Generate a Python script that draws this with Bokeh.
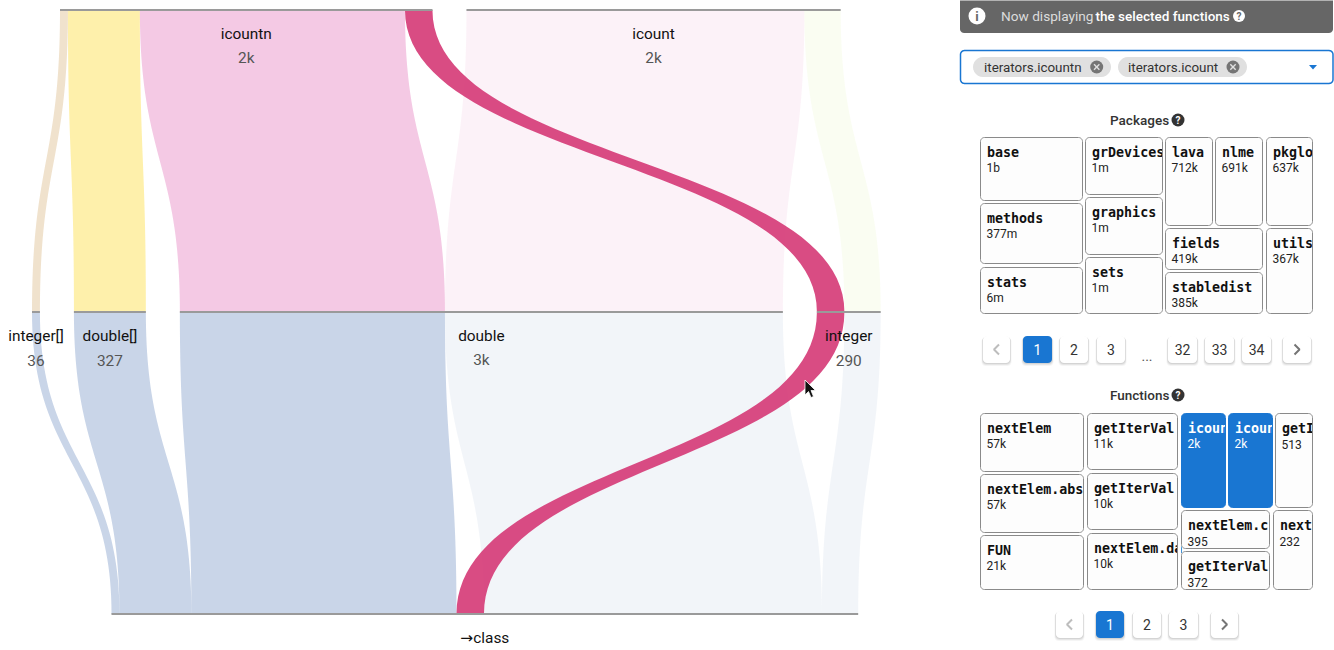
from bokeh.plotting import figure
from bokeh.layouts import row
from bokeh.embed import file_html
from bokeh.resources import INLINE
from bokeh.core.properties import value
from bokeh.models import Range1d

# ---- parallel-sets data (counts) ---------------------------------------
rib_counts = [36, 327, 1205, 125, 1536, 165]
rib_top_color = ["#d4ac70", "#fcd40f", "#e065b2", "#d53876", "#e065b2", "#c3eb69"]
rib_top_alpha = [0.35, 0.35, 0.35, 0.9, 0.085, 0.085]
rib_low_alpha = [0.35, 0.35, 0.35, 0.9, 0.085, 0.085]
rib_low_color = ["#6487bd", "#6487bd", "#6487bd", "#d53876", "#6487bd", "#6487bd"]

top_groups = [("icountn", "2k", [0, 1, 2, 3]), ("icount", "2k", [4, 5])]
mid_groups = [("integer[]", "36", [0]), ("double[]", "327", [1]), ("double", "3k", [2, 4]), ("integer", "290", [3, 5])]
low_order = [0, 1, 2, 3, 4, 5]
low_label = "→class"

# layout constants of the diagram, in count units / pixels
KX = 0.22          # pixels per count
GAP = 34 / KX      # gap between nodes
TOP_START = 28 / KX
MID_START = 0.0
LOW_START = 79.5 / KX
ROW_PX = 302.0     # pixels between rows

W_LEFT, W_RIGHT, H = 950, 384, 650
PX0 = 32.0         # page x of count 0
LY = lambda py: (py - 10) / ROW_PX
LX = lambda px: (px - PX0) / KX


def stack(groups, start):
    pos, spans, x = {}, [], start
    for _, _, idx in groups:
        s = x
        for i in idx:
            pos[i] = (x, x + rib_counts[i])
            x += rib_counts[i]
        spans.append((s, x))
        x += GAP
    return pos, spans


top_pos, top_spans = stack(top_groups, TOP_START)
mid_pos, mid_spans = stack(mid_groups, MID_START)
low_pos, low_spans = stack([("", "", low_order)], LOW_START)


def ribbon(a, b, y0, y1, n=50):
    """vertical-tangent bezier band between two rows"""
    ym = (y0 + y1) / 2
    def edge(x0, x1):
        xs, ys = [], []
        for k in range(n + 1):
            t = k / n
            u = 1 - t
            xs.append(u**3 * x0 + 3 * u * u * t * x0 + 3 * u * t * t * x1 + t**3 * x1)
            ys.append(u**3 * y0 + 3 * u * u * t * ym + 3 * u * t * t * ym + t**3 * y1)
        return xs, ys
    lx, ly = edge(a[0], b[0])
    rx, ry = edge(a[1], b[1])
    return lx + rx[::-1], ly + ry[::-1]


left = figure(width=W_LEFT, height=H, output_backend="svg", toolbar_location=None,
              x_range=Range1d(LX(0.5), LX(950.5)), y_range=Range1d(LY(650.5), LY(0.5)),
              min_border=0, outline_line_color=None)
left.axis.visible = False
left.grid.visible = False

order = [0, 1, 2, 4, 5, 3]
for i in order:
    xs, ys = ribbon(top_pos[i], mid_pos[i], 0, 1)
    left.patch(xs, ys, fill_color=rib_top_color[i], fill_alpha=rib_top_alpha[i], line_color=None)
    xs, ys = ribbon(mid_pos[i], low_pos[i], 1, 2)
    left.patch(xs, ys, fill_color=rib_low_color[i], fill_alpha=rib_low_alpha[i], line_color=None)

for lvl, spans in ((0, top_spans), (1, mid_spans), (2, low_spans)):
    for a, b in spans:
        left.line([a, b], [lvl, lvl], line_color="#9a9a9a", line_width=2)


def labels(groups, spans, lvl):
    for (nm, val, _), (a, b) in zip(groups, spans):
        c = (a + b) / 2
        left.text([c], [lvl], text=[nm], text_font=value("Roboto"), text_font_size="15.4px",
                  text_color="#111111", text_align="center", text_baseline="middle", y_offset=24)
        left.text([c], [lvl], text=[val], text_font=value("Roboto"), text_font_size="15.4px",
                  text_color="#555555", text_align="center", text_baseline="middle", y_offset=48)


labels(top_groups, top_spans, 0)
labels(mid_groups, mid_spans, 1)
left.text([(low_spans[0][0] + low_spans[0][1]) / 2], [2], text=[low_label],
          text_font=value("Roboto, 'DejaVu Sans'"),
          text_font_size="15.4px", text_color="#111111", text_align="center", text_baseline="middle", y_offset=24)

# mouse pointer
cur = [(805, 380), (805, 395), (808.5, 391.5), (811, 397.5), (813.5, 396.5), (811, 390.5), (815.5, 390.5)]
left.patch([LX(a) for a, _ in cur], [LY(b) for _, b in cur], fill_color="#111111",
           line_color="#ffffff", line_width=0.8)

# ---- right-hand panel --------------------------------------------------
pkg_names = ["base", "methods", "stats", "grDevices", "graphics", "sets", "lava", "nlme", "fields", "stabledist", "pkglo", "utils"]
pkg_vals = ["1b", "377m", "6m", "1m", "1m", "1m", "712k", "691k", "419k", "385k", "637k", "367k"]
pkg_boxes = [(980, 1083, 137, 201), (980, 1083, 203, 264), (980, 1083, 267, 314),
             (1085, 1163, 137, 195), (1085, 1163, 197, 255), (1085, 1163, 257, 314),
             (1165, 1213, 137, 226), (1215, 1263, 137, 226), (1165, 1263, 228, 270),
             (1165, 1263, 272, 314), (1266, 1313, 137, 226), (1266, 1313, 228, 314)]
fn_names = ["nextElem", "nextElem.abs", "FUN", "getIterVal", "getIterVal", "nextElem.da", "icountn", "icount",
            "nextElem.c", "getIterVal", "getI", "next"]
fn_vals = ["57k", "57k", "21k", "11k", "10k", "10k", "2k", "2k", "395", "372", "513", "232"]
fn_boxes = [(980, 1084, 413, 472), (980, 1084, 474, 533), (980, 1084, 535, 590),
            (1087, 1178, 413, 470), (1087, 1178, 473, 530), (1087, 1178, 533, 590),
            (1181, 1226, 413, 508), (1228, 1273, 413, 508), (1181, 1270, 510, 549),
            (1181, 1270, 551, 590), (1275, 1313, 413, 508), (1273, 1313, 510, 590)]
fn_selected = ["icountn", "icount"]
pkg_pages = [("‹", 983, 1010, 0), ("1", 1023, 1052, 1), ("2", 1060, 1088, 0), ("3", 1097, 1125, 0),
             ("32", 1168, 1197, 0), ("33", 1205, 1234, 0), ("34", 1242, 1271, 0), ("›", 1283, 1311, 0)]
fn_pages = [("‹", 1056, 1083, 0), ("1", 1096, 1124, 1), ("2", 1133, 1161, 0), ("3", 1169, 1198, 0), ("›", 1211, 1238, 0)]

right = figure(width=W_RIGHT, height=H, output_backend="svg", toolbar_location=None,
               x_range=Range1d(950.5, 1334.5), y_range=Range1d(650.5, 0.5),
               min_border=0, outline_line_color=None)
right.axis.visible = False
right.grid.visible = False


def rr(x0, x1, y0, y1, r=4, **kw):
    import math
    xs, ys = [], []
    for cx, cy, a0 in ((x1 - r, y0 + r, -90), (x1 - r, y1 - r, 0), (x0 + r, y1 - r, 90), (x0 + r, y0 + r, 180)):
        for k in range(7):
            a = math.radians(a0 + 15 * k)
            xs.append(cx + r * math.cos(a))
            ys.append(cy + r * math.sin(a))
    return right.patch(xs, ys, **kw)


def t(x, y, s, size="13.33px", color="#333333", font="Roboto", align="left", style="normal"):
    right.text([x], [y], text=[s], text_font=value(font), text_font_size=size, text_color=color,
               text_align=align, text_baseline="middle", text_font_style=style)


def disc(x, y, d, color):
    right.scatter([x], [y], size=d, marker="circle", fill_color=color, line_color=None)


def help_icon(x, y, fill, fg, d=13):
    disc(x, y, d, fill)
    t(x, y + 0.5, "?", "10px", fg, align="center", style="bold")


# info banner
rr(960, 1333, -10, 33, r=4, fill_color="#666666", line_color=None)
disc(977, 16, 17, "#ffffff")
t(977, 16.5, "i", "13px", "#666666", align="center", style="bold")
t(1001, 16, "Now displaying", "13.65px", "#dcdcdc")
t(1095.5, 16, "the selected functions", "13.5px", "#ffffff", font="Roboto Medium")
help_icon(1239, 16, "#ffffff", "#666666", 12)

# select box
rr(960.5, 1333, 50.5, 83.5, r=4, fill_color="#ffffff", line_color="#1976d2", line_width=1.5)
for x0, x1, tx, ix, s in ((973, 1111, 984, 1096.7, "iterators.icountn"), (1118, 1247, 1128, 1233, "iterators.icount")):
    rr(x0, x1, 57, 77, r=10, fill_color="#e0e0e0", line_color=None)
    t(tx, 67, s, "13.4px", "#333333")
    disc(ix, 67, 13, "#757575")
    right.multi_line([[ix - 2.7, ix + 2.7], [ix - 2.7, ix + 2.7]], [[64.3, 69.7], [69.7, 64.3]],
                     line_color="#e0e0e0", line_width=1.4)
right.patch([1309, 1317, 1313], [65, 65, 69.5], fill_color="#1976d2", line_color=None)

# section titles
t(1110, 120, "Packages", "13.5px", "#333333", font="Roboto Medium")
help_icon(1178, 120, "#333333", "#ffffff")
t(1110, 395, "Functions", "13.5px", "#333333", font="Roboto Medium")
help_icon(1178, 395, "#333333", "#ffffff")


def cells(names, vals, boxes, selected=()):
    order = sorted(range(len(names)), key=lambda i: boxes[i][0])
    for i in order:
        x0, x1, y0, y1 = boxes[i]
        on = names[i] in selected
        bg = "#1976d2" if on else "#fdfdfd"
        rr(x0 + .5, x1 - .5, y0 + .5, y1 - .5, r=4, fill_color=bg, line_color=None)
        t(x0 + 7, y0 + 15, names[i], "13.33px", "#ffffff" if on else "#111111", font="DejaVu Sans Mono", style="bold")
        t(x0 + 6.5, y0 + 31, vals[i], "12px", "#ffffff" if on else "#222222")
        # clip overflowing names at the cell edge
        right.quad(left=[x1 - 1], right=[x1 + 3], top=[y0], bottom=[y0 + 26], fill_color="#ffffff", line_color=None)
        rr(x0 + .5, x1 - .5, y0 + .5, y1 - .5, r=4, fill_alpha=0, line_color="#1976d2" if on else "#8a8a8a", line_width=1)


cells(pkg_names, pkg_vals, pkg_boxes)
cells(fn_names, fn_vals, fn_boxes, fn_selected)


def pages(items, y0, y1):
    ym = (y0 + y1) / 2
    for s, x0, x1, on in items:
        for off, al in ((3, .04), (2, .06), (1, .08)):
            rr(x0 - off / 2, x1 + off / 2, y0 + off / 2, y1 + off, r=4, fill_color="#000000", fill_alpha=al, line_color=None)
        rr(x0, x1, y0, y1, r=4, fill_color="#1976d2" if on else "#ffffff", line_color=None)
        c = (x0 + x1) / 2
        if s in "‹›":
            sgn = -1 if s == "‹" else 1
            col = "#bdbdbd" if s == "‹" else "#757575"
            right.line([c - sgn * 2.5, c + sgn * 2.5, c - sgn * 2.5], [ym - 5, ym, ym + 5], line_color=col, line_width=2)
        else:
            t(c, ym, s, "14px", "#ffffff" if on else "#333333", align="center")


pages(pkg_pages, 336, 363)
t(1147, 355, "...", "14px", "#555555", align="center")
pages(fn_pages, 611, 638)

html = file_html(row(left, right, spacing=0), INLINE)
open("out.html", "w").write(html)
